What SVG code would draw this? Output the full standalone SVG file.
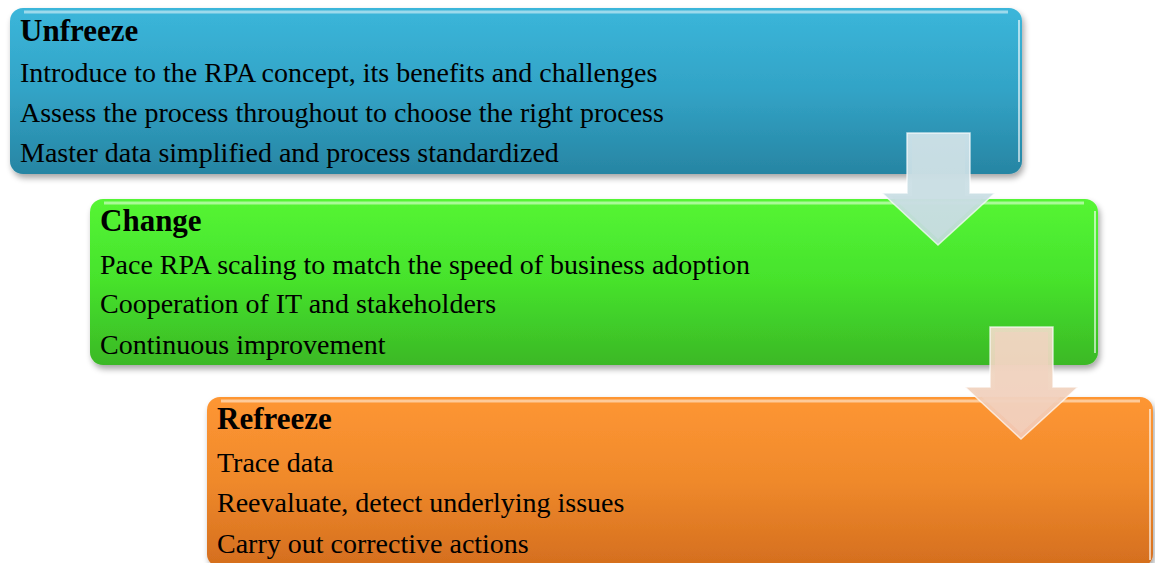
<svg xmlns="http://www.w3.org/2000/svg" width="1155" height="563" viewBox="0 0 1155 563">
<defs>
<linearGradient id="gBlue" x1="0" y1="0" x2="0" y2="1">
<stop offset="0" stop-color="#3bb6da"/><stop offset="0.5" stop-color="#32a3c6"/><stop offset="1" stop-color="#2785a3"/>
</linearGradient>
<linearGradient id="gGreen" x1="0" y1="0" x2="0" y2="1">
<stop offset="0" stop-color="#55f534"/><stop offset="0.5" stop-color="#46e22c"/><stop offset="1" stop-color="#3bb826"/>
</linearGradient>
<linearGradient id="gOrange" x1="0" y1="0" x2="0" y2="1">
<stop offset="0" stop-color="#fe9633"/><stop offset="0.5" stop-color="#ef892b"/><stop offset="1" stop-color="#d46e1e"/>
</linearGradient>
<linearGradient id="gArrowB" x1="0" y1="0" x2="0" y2="1">
<stop offset="0" stop-color="#cfe3ea" stop-opacity="0.95"/><stop offset="1" stop-color="#c5dadf" stop-opacity="0.92"/>
</linearGradient>
<linearGradient id="gArrowO" x1="0" y1="0" x2="0" y2="1">
<stop offset="0" stop-color="#ecdcc4" stop-opacity="0.95"/><stop offset="1" stop-color="#f4c9b8" stop-opacity="0.9"/>
</linearGradient>
<filter id="shadow" x="-5%" y="-10%" width="110%" height="130%">
<feGaussianBlur in="SourceAlpha" stdDeviation="3"/>
<feOffset dx="2" dy="4" result="b"/>
<feComponentTransfer><feFuncA type="linear" slope="0.35"/></feComponentTransfer>
<feMerge><feMergeNode/><feMergeNode in="SourceGraphic"/></feMerge>
</filter>
</defs>
<style>
.t{font-family:"Liberation Serif","Times New Roman",serif;font-size:28px;fill:#000}
.h{font-family:"Liberation Serif","Times New Roman",serif;font-size:31px;font-weight:bold;fill:#000}
.gloss{fill:none;stroke:#ffffff;stroke-opacity:0.5;stroke-width:3}
.edge{fill:none;stroke:#ffffff;stroke-opacity:0.6;stroke-width:2}
</style>
<g id="unfreeze">
<rect x="10" y="8" width="1012" height="166" rx="13" fill="url(#gBlue)" filter="url(#shadow)"/>
<path class="gloss" d="M24 12 H1008"/>
<path class="edge" d="M1019 20 V162"/>
<text class="h" x="20" y="41">Unfreeze</text>
<text class="t" x="20" y="82">Introduce to the RPA concept, its benefits and challenges</text>
<text class="t" x="20" y="122">Assess the process throughout to choose the right process</text>
<text class="t" x="20" y="162">Master data simplified and process standardized</text>
</g>
<g id="change">
<rect x="90" y="199" width="1008" height="166" rx="13" fill="url(#gGreen)" filter="url(#shadow)"/>
<path class="gloss" d="M104 203 H1084"/>
<path class="edge" d="M1095 211 V353"/>
<text class="h" x="100" y="231">Change</text>
<text class="t" x="100" y="274">Pace RPA scaling to match the speed of business adoption</text>
<text class="t" x="100" y="313">Cooperation of IT and stakeholders</text>
<text class="t" x="100" y="354">Continuous improvement</text>
</g>
<g id="refreeze">
<rect x="207" y="397" width="946" height="170" rx="13" fill="url(#gOrange)" filter="url(#shadow)"/>
<path class="gloss" d="M221 401 H1140"/>
<path class="edge" d="M1150 409 V560"/>
<text class="h" x="217" y="429">Refreeze</text>
<text class="t" x="217" y="472">Trace data</text>
<text class="t" x="217" y="512">Reevaluate, detect underlying issues</text>
<text class="t" x="217" y="553">Carry out corrective actions</text>
</g>
<g id="connectors">
<g id="arrow1">
<path d="M907 133 H970 V193 H995 L938 245 L882 193 H907 Z" fill="url(#gArrowB)" stroke="#ffffff" stroke-opacity="0.7" stroke-width="1.5"/>
<path d="M912 138 H965 V196 H985 L938 239 L891 196 H912 Z" fill="#c9dde3" fill-opacity="0.6"/>
</g>
<g id="arrow2">
<path d="M990 327 H1053 V387 H1078 L1021 439 L965 387 H990 Z" fill="url(#gArrowO)" stroke="#ffffff" stroke-opacity="0.7" stroke-width="1.5"/>
<path d="M995 332 H1048 V390 H1068 L1021 433 L974 390 H995 Z" fill="#f2d2c0" fill-opacity="0.6"/>
</g>
</g>
</svg>
